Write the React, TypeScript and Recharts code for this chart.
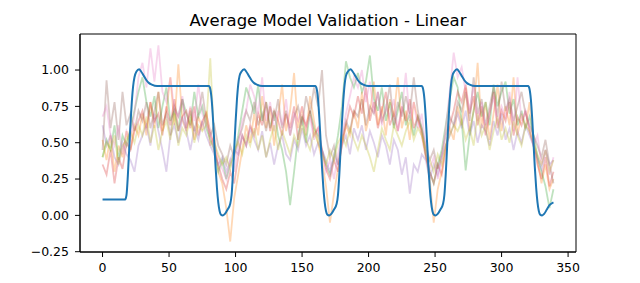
import React from 'react';
import { LineChart, Line, XAxis, YAxis, ReferenceArea } from 'recharts';

// sample grid for the noisy model runs (every 3rd step)
const steps = Array.from({ length: 114 }, (_, i) => i * 3);

const orangeRun = [
  0.52, 0.38, 0.55, 0.3, 0.48, 0.4, 0.58,
  0.45, 0.62, 0.55,
  0.7, 0.55, 0.78, 0.6, 0.85, 0.58, 0.72, 0.95, 0.62, 1.04, 0.66, 0.58, 0.74, 0.52, 0.68, 0.6, 0.72,
  0.48, 0.55, 0.3, 0.22,
  0.05, -0.18, 0.12,
  0.28, 0.45, 0.62, 0.5,
  0.7, 0.55, 0.82, 0.6, 0.75, 0.48, 0.68, 0.9, 0.58, 0.72, 0.98, 0.6, 0.75, 0.55, 0.82, 0.65, 0.5,
  0.38, 0.2, -0.05, 0.15, 0.32,
  0.48, 0.62, 0.55, 0.72,
  0.6, 0.85, 0.58, 0.7, 0.92, 0.62, 0.75, 0.55, 0.8, 0.68, 0.95, 0.6, 0.72, 0.52, 0.78, 0.66, 0.58,
  0.42, 0.25, -0.05, 0.18, 0.3,
  0.48, 0.6, 0.52, 0.75,
  0.62, 0.88, 0.58, 0.72, 1.05, 0.6, 0.78, 0.52, 0.7, 0.9, 0.58, 0.75, 0.62, 0.95, 0.55, 0.7, 0.6, 0.78,
  0.5, 0.38, 0.22, 0.35, 0.18, 0.25,
];

const greenRun = [
  0.4, 0.52, 0.45, 0.62, 0.38, 0.55, 0.48,
  0.6, 0.72, 0.85,
  0.95, 0.78, 0.68, 0.82, 0.6, 0.75, 0.88, 0.65, 0.72, 0.58, 0.8, 0.7, 0.62, 0.85, 0.68, 0.75, 0.6,
  0.52, 0.45, 0.3, 0.38,
  0.25, 0.35, 0.42,
  0.55, 0.72, 0.88, 0.8,
  0.7, 0.9, 0.65, 0.78, 0.6, 0.72, 0.55, 0.45, 0.3, 0.07, 0.3, 0.55, 0.68, 0.5, 0.72, 0.6, 0.55,
  0.45, 0.35, 0.28, 0.4, 0.55,
  0.75, 1.06, 0.95, 0.88,
  0.98, 0.85, 0.92, 1.1, 0.8, 0.72, 0.88, 0.65, 0.78, 0.6, 0.72, 0.85, 0.62, 0.7, 0.55, 0.68, 0.6,
  0.42, 0.3, 0.22, 0.35, 0.45,
  0.62, 0.8, 0.95, 0.88,
  0.65, 0.31, 0.55, 0.72, 0.85, 0.68, 0.78, 0.62, 0.9, 0.75, 0.85, 0.92, 0.7, 0.8, 0.62, 0.72, 0.6, 0.68,
  0.55, 0.4, 0.3, 0.2, 0.05, 0.18,
];

const redRun = [
  0.35, 0.28, 0.45, 0.22, 0.4, 0.32, 0.5,
  0.45, 0.58, 0.65,
  0.72, 0.6, 0.78, 0.65, 0.7, 0.55, 0.75, 0.62, 0.8, 0.58, 0.68, 0.72, 0.6, 0.75, 0.55, 0.65, 0.7,
  0.58, 0.45, 0.35, 0.25,
  0.18, 0.3, 0.22,
  0.4, 0.55, 0.48, 0.62,
  0.55, 0.7, 0.62, 0.78, 0.58, 0.72, 0.65, 0.55, 0.7, 0.6, 0.75, 0.52, 0.68, 0.62, 0.72, 0.55, 0.6,
  0.45, 0.32, 0.25, 0.38, 0.3,
  0.5, 0.62, 0.75, 0.68,
  0.82, 0.7, 0.88, 0.65, 0.78, 0.6, 0.72, 0.85, 0.62, 0.7, 0.58, 0.75, 0.65, 0.8, 0.6, 0.68, 0.55,
  0.4, 0.3, 0.22, 0.35, 0.28,
  0.45, 0.62, 0.72, 0.85,
  0.78, 0.9, 0.7, 0.82, 0.62, 0.75, 0.55, 0.7, 0.85, 0.6, 0.72, 0.65, 0.78, 0.55, 0.68, 0.62, 0.72, 0.58,
  0.48, 0.35, 0.25, 0.4, 0.2, 0.3,
];

const purpleRun = [
  0.62, 0.48, 0.55, 0.4, 0.35, 0.5, 0.42,
  0.38, 0.3, 0.48,
  0.55, 0.62, 0.48, 0.7, 0.58, 0.45, 0.3, 0.55, 0.62, 0.5, 0.68, 0.58, 0.45, 0.6, 0.52, 0.65, 0.55,
  0.48, 0.42, 0.35, 0.4,
  0.3, 0.38, 0.45,
  0.42, 0.55, 0.48, 0.6,
  0.52, 0.45, 0.58, 0.4, 0.5, 0.35, 0.48, 0.55, 0.42, 0.38, 0.52, 0.45, 0.6, 0.48, 0.55, 0.42, 0.5,
  0.45, 0.38, 0.3, 0.42, 0.35,
  0.48, 0.55, 0.42, 0.6,
  0.52, 0.62, 0.45, 0.58, 0.5, 0.4, 0.55, 0.48, 0.35, 0.52, 0.45, 0.28, 0.4, 0.15, 0.35, 0.3, 0.42,
  0.38, 0.25, 0.35, 0.28, 0.4,
  0.48, 0.55, 0.62, 0.7,
  0.6, 0.72, 0.55, 0.65, 0.5, 0.62, 0.58, 0.48, 0.65, 0.55, 0.7, 0.52, 0.6, 0.45, 0.58, 0.5, 0.62, 0.55,
  0.48, 0.4, 0.32, 0.45, 0.35, 0.38,
];

const brownRun = [
  0.45, 0.93, 0.6, 0.78, 0.52, 0.85, 0.62,
  0.7, 0.58, 0.72,
  0.65, 0.78, 0.6, 0.72, 0.85, 0.62, 0.7, 0.55, 0.75, 0.68, 0.8, 0.6, 0.72, 0.58, 0.7, 0.85, 0.65,
  0.55, 0.62, 0.48, 0.42,
  0.35, 0.48, 0.4,
  0.52, 0.6, 0.72, 0.65,
  0.78, 0.62, 0.7, 0.58, 0.75, 0.65, 0.8, 0.6, 0.72, 0.55, 0.68, 0.75, 0.62, 0.82, 0.7, 0.88, 0.75,
  1.0, 0.55, 0.4, 0.48, 0.35,
  0.52, 0.65, 0.58, 0.72,
  0.68, 0.8, 0.62, 0.75, 0.7, 0.85, 0.65, 0.72, 0.9, 0.62, 0.78, 0.68, 0.82, 0.7, 0.95, 0.72, 0.6,
  0.48, 0.38, 0.45, 0.32, 0.42,
  0.55, 0.68, 0.62, 0.78,
  0.72, 0.85, 0.65, 0.95, 0.7, 0.8, 0.62, 0.75, 0.88, 0.68, 0.92, 0.72, 0.8, 0.65, 0.75, 0.85, 0.7, 0.62,
  0.55, 0.48, 0.4, 0.52, 0.35, 0.22,
];

const pinkRun = [
  0.68, 0.75, 0.55, 0.48, 0.62, 0.42, 0.58,
  0.52, 0.7, 0.95,
  1.05, 0.88, 1.15, 0.92, 1.17, 0.85, 0.78, 0.95, 0.72, 0.68, 0.82, 0.6, 0.75, 0.65, 0.9, 0.7, 0.62,
  0.55, 0.48, 0.4, 0.32,
  0.25, 0.38, 0.3,
  0.48, 0.65, 0.72, 0.9,
  0.82, 0.7, 0.95, 0.65, 0.78, 0.58, 0.72, 0.62, 0.8, 0.55, 0.7, 0.65, 0.75, 0.6, 0.68, 0.52, 0.6,
  0.45, 0.3, 0.38, 0.25, 0.42,
  0.55, 0.7, 0.82, 0.95,
  0.88, 1.0, 0.78, 0.92, 0.7, 0.85, 0.62, 0.75, 0.68, 0.8, 0.58, 0.72, 0.98, 0.65, 0.78, 0.6, 0.7,
  0.45, 0.32, 0.4, 0.25, 0.38,
  0.6, 0.85, 1.12, 0.95,
  1.02, 0.85, 0.72, 0.9, 0.65, 0.78, 0.6, 0.7, 0.82, 0.62, 0.75, 0.68, 0.85, 0.58, 0.95, 0.65, 0.72, 0.6,
  0.48, 0.55, 0.35, 0.45, 0.28, 0.4,
];

const oliveRun = [
  0.4, 0.5, 0.45, 0.55, 0.35, 0.48, 0.52,
  0.58, 0.5, 0.62,
  0.55, 0.68, 0.5, 0.62, 0.45, 0.58, 0.65, 0.52, 0.7, 0.48, 0.6, 0.55, 0.68, 0.5, 0.62, 0.58, 0.62,
  1.08, 0.5, 0.42, 0.35,
  0.4, 0.32, 0.45,
  0.5, 0.42, 0.55, 0.48,
  0.6, 0.45, 0.55, 0.4, 0.52, 0.62, 0.45, 0.58, 0.5, 0.42, 0.55, 0.48, 0.62, 0.52, 0.45, 0.58, 0.5,
  0.42, 0.35, 0.45, 0.38, 0.5,
  0.55, 0.48, 0.6, 0.52,
  0.45, 0.55, 0.48, 0.4, 0.3, 0.45, 0.6, 0.52, 0.45, 0.62, 0.55, 0.48, 0.58, 0.65, 0.52, 0.6, 0.55,
  0.45, 0.38, 0.3, 0.42, 0.35,
  0.48, 0.55, 0.62, 0.58,
  0.65, 0.52, 0.6, 0.48, 0.7, 0.55, 0.62, 0.45, 0.58, 0.68, 0.52, 0.6, 0.5, 0.65, 0.55, 0.48, 0.62, 0.58,
  0.5, 0.42, 0.35, 0.45, 0.3, 0.38,
];

// target signal
const targetX = [
  0, 17, 18, 19, 20, 21, 22, 23, 24, 25.5, 27.5, 29, 31, 33, 35, 37, 41,
  80, 81, 82, 83, 84, 85, 86, 87, 88, 89, 90.5, 92, 94, 96, 97, 98, 99, 100, 101, 102, 103, 104.5, 106.5, 108, 110, 112, 114, 116, 120,
  160, 161, 162, 163, 164, 165, 166, 167, 168, 169, 170.5, 172, 174, 176, 177, 178, 179, 180, 181, 182, 183, 184.5, 186.5, 188, 190, 192, 194, 196, 200,
  240, 241, 242, 243, 244, 245, 246, 247, 248, 249, 250.5, 252, 254, 256, 257, 258, 259, 260, 261, 262, 263, 264.5, 266.5, 268, 270, 272, 274, 276, 280,
  320, 321, 322, 323, 324, 325, 326, 327, 328, 329, 330.5, 332, 334, 336, 339,
];
const targetY = [
  0.11, 0.11, 0.14, 0.27, 0.45, 0.63, 0.78, 0.89, 0.95, 0.99, 1.005, 0.99, 0.96, 0.93, 0.91, 0.9, 0.89,
  0.89, 0.87, 0.8, 0.67, 0.5, 0.33, 0.19, 0.09, 0.03, 0.005, 0, 0.01, 0.04, 0.08, 0.14, 0.28, 0.46, 0.64, 0.79, 0.9, 0.96, 0.99, 1.005, 0.99, 0.96, 0.93, 0.91, 0.9, 0.89,
  0.89, 0.87, 0.8, 0.67, 0.5, 0.33, 0.19, 0.09, 0.03, 0.005, 0, 0.01, 0.04, 0.08, 0.14, 0.28, 0.46, 0.64, 0.79, 0.9, 0.96, 0.99, 1.005, 0.99, 0.96, 0.93, 0.91, 0.9, 0.89,
  0.89, 0.87, 0.8, 0.67, 0.5, 0.33, 0.19, 0.09, 0.03, 0.005, 0, 0.01, 0.04, 0.08, 0.14, 0.28, 0.46, 0.64, 0.79, 0.9, 0.96, 0.99, 1.005, 0.99, 0.96, 0.93, 0.91, 0.9, 0.89,
  0.89, 0.87, 0.8, 0.67, 0.5, 0.33, 0.19, 0.09, 0.03, 0.005, 0, 0.01, 0.04, 0.07, 0.09,
];

const xTicks = [0, 50, 100, 150, 200, 250, 300, 350];
const yTicks = [-0.25, 0, 0.25, 0.5, 0.75, 1.0];
const xDomain: [number, number] = [-16.95, 355.95];
const yDomain: [number, number] = [-0.252, 1.248];

const runs = [
  { name: 'orange', values: orangeRun, color: '#ff7f0e' },
  { name: 'green', values: greenRun, color: '#2ca02c' },
  { name: 'red', values: redRun, color: '#d62728' },
  { name: 'purple', values: purpleRun, color: '#9467bd' },
  { name: 'brown', values: brownRun, color: '#8c564b' },
  { name: 'pink', values: pinkRun, color: '#e377c2' },
  { name: 'olive', values: oliveRun, color: '#bcbd22' },
];

const toPoints = (xs: number[], ys: number[]) => xs.map((x, i) => ({ x, y: ys[i] }));

const fmtY = (v: number) => {
  const s = v.toFixed(2);
  return v < 0 ? '\u2212' + s.slice(1) : s;
};

const FONT = '"DejaVu Sans", sans-serif';

export default function App() {
  const target = toPoints(targetX, targetY);
  return (
    <div style={{ position: 'absolute', left: 0, top: 0, width: 640, height: 283, background: '#fff', fontFamily: FONT }}>
      <LineChart width={640} height={283} margin={{ top: 34, right: 64, bottom: 0, left: 0 }}>
        <XAxis
          type="number"
          dataKey="x"
          domain={xDomain}
          ticks={xTicks}
          height={31}
          tickSize={5}
          tickMargin={6}
          stroke="#000"
          tick={{ fill: '#000', fontSize: 12.5, fontFamily: FONT }}
          allowDataOverflow
        />
        <YAxis
          type="number"
          domain={yDomain}
          ticks={yTicks}
          width={80}
          tickSize={5}
          tickMargin={6}
          stroke="#000"
          tickFormatter={fmtY}
          tick={{ fill: '#000', fontSize: 12.5, fontFamily: FONT }}
          allowDataOverflow
        />
        {runs.map((r) => (
          <Line
            key={r.name}
            data={toPoints(steps, r.values)}
            dataKey="y"
            type="linear"
            stroke={r.color}
            strokeOpacity={0.3}
            strokeWidth={1.8}
            dot={false}
            isAnimationActive={false}
          />
        ))}
        <Line
          data={target}
          dataKey="y"
          type="monotone"
          stroke="#1f77b4"
          strokeWidth={2}
          dot={false}
          isAnimationActive={false}
        />
        {/* axes frame */}
        <ReferenceArea
          x1={xDomain[0]}
          x2={xDomain[1]}
          y1={yDomain[0]}
          y2={yDomain[1]}
          fill="none"
          fillOpacity={0}
          stroke="#000"
          strokeWidth={1}
          ifOverflow="visible"
        />
      </LineChart>
      <svg width={640} height={34} style={{ position: 'absolute', left: 0, top: 0 }}>
        <text x={328} y={26} textAnchor="middle" fontSize={16.5} fontFamily={FONT} fill="#000">
          Average Model Validation - Linear
        </text>
      </svg>
    </div>
  );
}
